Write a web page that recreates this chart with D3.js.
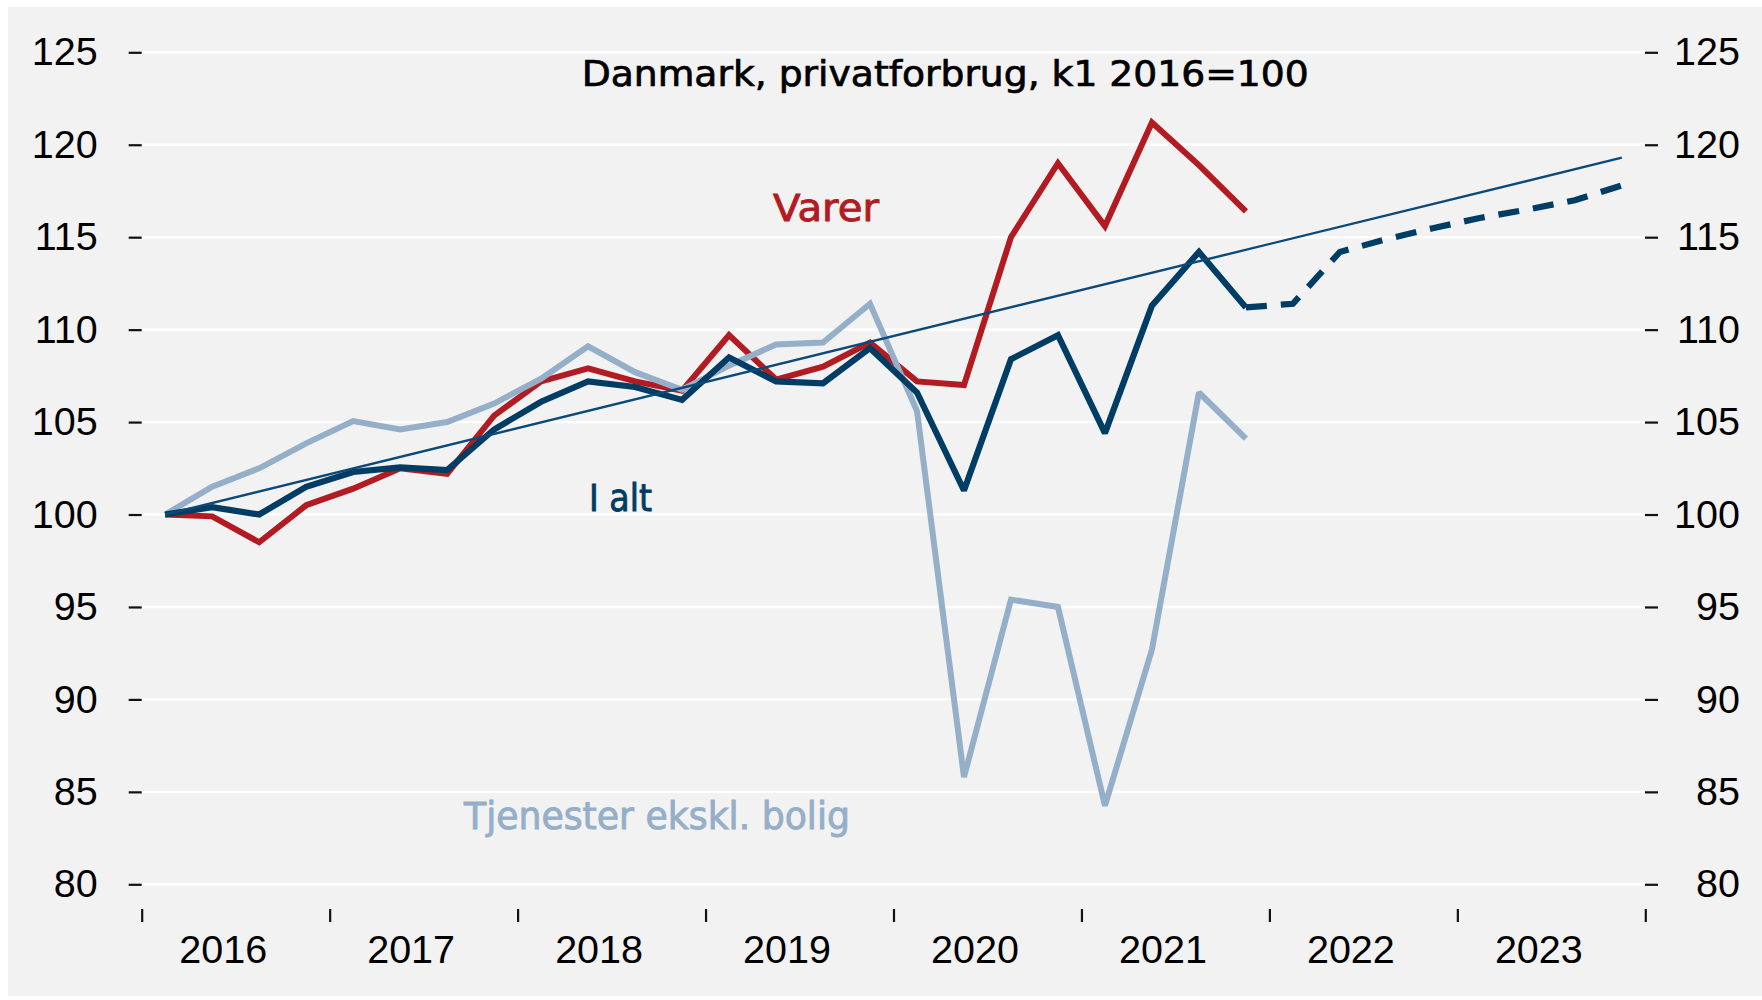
<!DOCTYPE html>
<html><head><meta charset="utf-8">
<script src="https://cdn.jsdelivr.net/npm/d3@7"></script>
<style>body{margin:0;background:#fff}</style>
</head><body><svg id="c" width="1762" height="1000"></svg>
<script>
// ---- data ----
const years = ["2016","2017","2018","2019","2020","2021","2022","2023"];
const quarters = [
 "2016K1","2016K2","2016K3","2016K4","2017K1","2017K2","2017K3","2017K4",
 "2018K1","2018K2","2018K3","2018K4","2019K1","2019K2","2019K3","2019K4",
 "2020K1","2020K2","2020K3","2020K4","2021K1","2021K2","2021K3","2021K4"];
const forecastQuarters = ["2021K4","2022K1","2022K2","2022K3","2022K4","2023K1","2023K2","2023K3","2023K4"];
const varer = [100,99.9,98.5,100.5,101.4,102.5,102.2,105.35,107.2,107.9,107.2,106.7,
               109.7,107.3,108.0,109.3,107.2,107.0,115.0,119.0,115.6,121.2,118.9,116.4];
const iAlt = [100,100.4,100.0,101.5,102.3,102.55,102.4,104.6,106.1,107.2,106.9,106.2,
              108.5,107.2,107.1,109.0,106.6,101.3,108.4,109.7,104.4,111.3,114.2,111.2];
const tjenester = [100,101.5,102.5,103.85,105.05,104.6,105.0,106.0,107.35,109.1,107.7,106.75,
                   108.05,109.2,109.3,111.4,105.6,85.8,95.4,95.0,84.25,92.7,106.6,104.1];
const iAltForecast = [111.2,111.4,114.2,114.9,115.5,116.05,116.5,117.0,117.8];
const trendQuarters = ["2016K1","2023K4"];
const trend = [100,119.3];
const yTicks = [80,85,90,95,100,105,110,115,120,125];
const title = "Danmark, privatforbrug, k1 2016=100";

// ---- layout ----
const svg = d3.select("#c");
const X0 = 141.7, X1 = 1645.3, YB = 884.3, YT = 52.3;
const xYear = d3.scaleLinear().domain([2016, 2024]).range([X0, X1]);
const qx = s => xYear(+s.slice(0,4) + (+s.slice(5) - 0.5) / 4);
const y = d3.scaleLinear().domain([80, 125]).range([YB, YT]);

svg.append("rect").attr("x",8).attr("y",7).attr("width",1754).attr("height",989).attr("fill","#f2f2f2");

// gridlines
svg.append("g").selectAll("line").data(yTicks).join("line")
  .attr("x1", X0).attr("x2", 1643.5)
  .attr("y1", d => y(d)).attr("y2", d => y(d))
  .attr("stroke", "#ffffff").attr("stroke-width", 2.4);

const tickFont = "'Liberation Sans', Arial, sans-serif";
// left axis
const gl = svg.append("g").attr("transform", `translate(${X0},0)`)
  .call(d3.axisLeft(y).tickValues(yTicks).tickSize(13).tickPadding(31));
// right axis
const gr = svg.append("g").attr("transform", `translate(1645,0)`)
  .call(d3.axisRight(y).tickValues(yTicks).tickSize(13).tickPadding(0));
gr.selectAll("text").attr("text-anchor","end").attr("x", 1740 - 1645);
// bottom axis ticks
const gb = svg.append("g").attr("transform", `translate(0,909)`)
  .call(d3.axisBottom(xYear).tickValues(d3.range(2016, 2025)).tickSize(13).tickFormat(""));
[gl, gr, gb].forEach(g => {
  g.select(".domain").remove();
  g.selectAll("line").attr("stroke", "#111").attr("stroke-width", 2.2);
  g.selectAll("text").attr("font-family", tickFont).attr("font-size", 39.5).attr("fill", "#000");
});
// year labels
svg.append("g").selectAll("text").data(years).join("text")
  .attr("x", d => xYear(+d + 0.5) - 12.5).attr("y", 962.7)
  .attr("text-anchor", "middle").attr("font-family", tickFont).attr("font-size", 39.5).attr("fill", "#000")
  .text(d => d);

// lines
const line = d3.line().x(d => d[0]).y(d => d[1]);
function draw(qs, vals, color, w, dash) {
  const p = svg.append("path").datum(qs.map((q, i) => [qx(q), y(vals[i])]))
    .attr("d", line).attr("fill", "none").attr("stroke", color).attr("stroke-width", w)
    .attr("stroke-linejoin", "miter").attr("stroke-miterlimit", 2);
  if (dash) p.attr("stroke-dasharray", dash);
}
draw(quarters, varer, "#b21b22", 6);
draw(quarters, tjenester, "#95afc9", 6);
draw(forecastQuarters, iAltForecast, "#003d64", 6.2, "21,14");
draw(quarters, iAlt, "#003d64", 6.2);
draw(trendQuarters, trend, "#0b4a78", 2.4);

// text labels
const labFont = "'DejaVu Sans', sans-serif";
svg.append("text").attr("x", 581.7).attr("y", 85.7).attr("font-family", labFont).attr("font-size", 35)
  .attr("fill", "#000").attr("stroke", "#000").attr("stroke-width", 0.7)
  .attr("textLength", 727).attr("lengthAdjust", "spacingAndGlyphs").text(title);
const labels = [
  {t: "Varer", x: 773, yb: 221, w: 106, c: "#b21b22"},
  {t: "I alt", x: 589, yb: 511, w: 63, c: "#003d64"},
  {t: "Tjenester ekskl. bolig", x: 464, yb: 829, w: 386, c: "#95afc9"}
];
svg.append("g").selectAll("text").data(labels).join("text")
  .attr("x", d => d.x).attr("y", d => d.yb).attr("font-family", labFont).attr("font-size", 37)
  .attr("fill", d => d.c).attr("stroke", d => d.c).attr("stroke-width", 0.9)
  .attr("textLength", d => d.w).attr("lengthAdjust", "spacingAndGlyphs")
  .text(d => d.t);
</script></body></html>
